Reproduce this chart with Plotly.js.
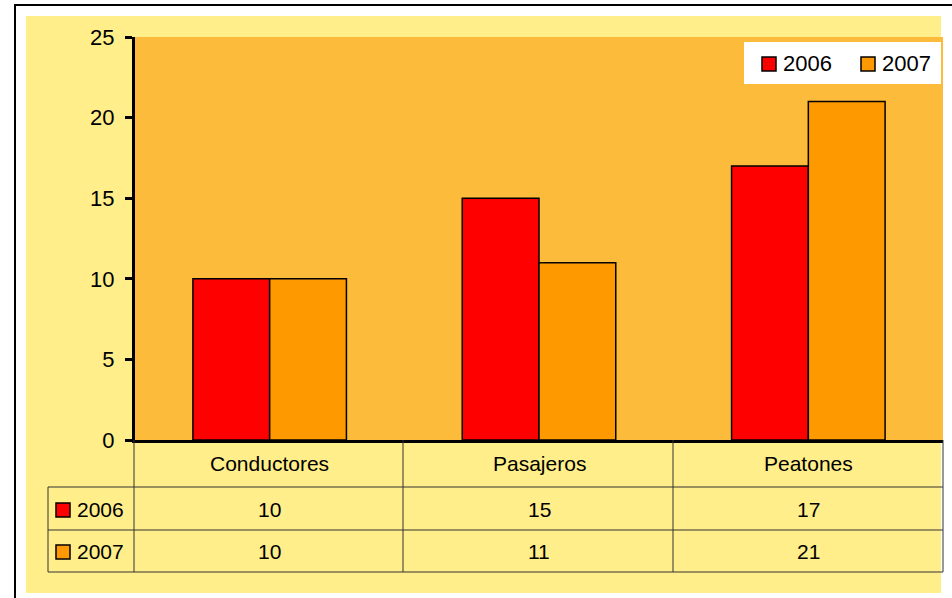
<!DOCTYPE html>
<html><head><meta charset="utf-8">
<script src="https://cdn.plot.ly/plotly-3.0.1.min.js"></script>
<style>html,body{margin:0;padding:0;background:#fff}#c{width:952px;height:598px}</style>
</head><body><div id="c"></div>
<script>
const categories = ["Conductores", "Pasajeros", "Peatones"];
const seriesNames = ["2006", "2007"];
const values2006 = [10, 15, 17];
const values2007 = [10, 11, 21];
const seriesColors = ["#FF0000", "#FF9900"];
const seriesValues = [values2006, values2007];

const W = 952, H = 598;
const px = v => v / W;
const py = v => 1 - v / H;
const FONT = "'Liberation Sans', Arial, sans-serif";

const traces = seriesNames.map((n, i) => ({
  type: "bar", name: n, x: categories, y: seriesValues[i],
  marker: {color: seriesColors[i], line: {color: "#000", width: 1.5}},
  hoverinfo: "none"
}));

const shapes = [];
// outer black frame
shapes.push({type: "rect", xref: "paper", yref: "paper", x0: px(15), x1: 1.2, y0: py(5), y1: -0.2, line: {color: "#000", width: 2}, fillcolor: "rgba(0,0,0,0)", layer: "below"});
// yellow chart area
shapes.push({type: "rect", xref: "paper", yref: "paper", x0: px(26), x1: px(941), y0: py(16), y1: py(593), line: {width: 0}, fillcolor: "#FFEE8A", layer: "below"});
// orange plot area
shapes.push({type: "rect", xref: "x domain", yref: "y domain", x0: 0, x1: 1, y0: 0, y1: 1, line: {width: 0}, fillcolor: "#FDBB3B", layer: "below"});
// table lines
const lineCol = "#333";
const colX = [134, 403, 673, 943];
colX.forEach(x => shapes.push({type: "line", xref: "paper", yref: "paper", x0: px(x), x1: px(x), y0: py(440), y1: py(572), line: {color: lineCol, width: 1}}));
shapes.push({type: "line", xref: "paper", yref: "paper", x0: px(48), x1: px(48), y0: py(487), y1: py(572), line: {color: lineCol, width: 1}});
[487, 530, 572].forEach(y => shapes.push({type: "line", xref: "paper", yref: "paper", x0: px(48), x1: px(943), y0: py(y), y1: py(y), line: {color: lineCol, width: 1}}));
// legend keys in the table
const rowY = [510, 552];
seriesNames.forEach((n, i) => {
  shapes.push({type: "rect", xref: "paper", yref: "paper", x0: px(56), x1: px(70), y0: py(rowY[i] - 7), y1: py(rowY[i] + 7), fillcolor: seriesColors[i], line: {color: "#000", width: 1.5}});
});
// custom legend box
shapes.push({type: "rect", xref: "paper", yref: "paper", x0: px(744), x1: px(941), y0: py(42), y1: py(84), fillcolor: "#FFFFFF", line: {width: 0}});
const legKeyX = [762, 861];
seriesNames.forEach((n, i) => {
  shapes.push({type: "rect", xref: "paper", yref: "paper", x0: px(legKeyX[i]), x1: px(legKeyX[i] + 14), y0: py(57), y1: py(71), fillcolor: seriesColors[i], line: {color: "#000", width: 1.5}});
});

const annotations = [];
categories.forEach((c, j) => {
  annotations.push({xref: "x", yref: "paper", x: c, y: py(463), text: c, showarrow: false, font: {family: FONT, size: 21, color: "#000"}, xanchor: "center", yanchor: "middle"});
  seriesNames.forEach((n, i) => {
    annotations.push({xref: "x", yref: "paper", x: c, y: py(rowY[i] - 1), text: String(seriesValues[i][j]), showarrow: false, font: {family: FONT, size: 21, color: "#000"}, xanchor: "center", yanchor: "middle"});
  });
});
seriesNames.forEach((n, i) => {
  annotations.push({xref: "paper", yref: "paper", x: px(75), y: py(rowY[i] - 1), text: n, showarrow: false, font: {family: FONT, size: 21, color: "#000"}, xanchor: "left", yanchor: "middle"});
  annotations.push({xref: "paper", yref: "paper", x: px(legKeyX[i] + 19), y: py(63), text: n, showarrow: false, font: {family: FONT, size: 22, color: "#000"}, xanchor: "left", yanchor: "middle"});
});

const layout = {
  width: W, height: H,
  margin: {l: 0, r: 0, t: 0, b: 0, autoexpand: false},
  paper_bgcolor: "#FFFFFF",
  plot_bgcolor: "rgba(0,0,0,0)",
  font: {family: FONT, size: 21, color: "#000"},
  barmode: "group", bargap: 0.43, bargroupgap: 0,
  showlegend: false,
  xaxis: {domain: [px(135), px(943)], showticklabels: false, ticks: "", showline: true, linecolor: "#000", linewidth: 3, showgrid: false, zeroline: false, fixedrange: true},
  yaxis: {domain: [py(440), py(37)], range: [0, 25], dtick: 5, tick0: 0, ticks: "outside", ticklen: 7, tickwidth: 3, tickcolor: "#000", ticklabelstandoff: 6,
    showline: true, linecolor: "#000", linewidth: 3, showgrid: false, zeroline: false, tickfont: {family: FONT, size: 22, color: "#000"}, fixedrange: true},
  shapes: shapes,
  annotations: annotations
};

Plotly.newPlot("c", traces, layout, {displayModeBar: false, staticPlot: true});
</script>
</body></html>
